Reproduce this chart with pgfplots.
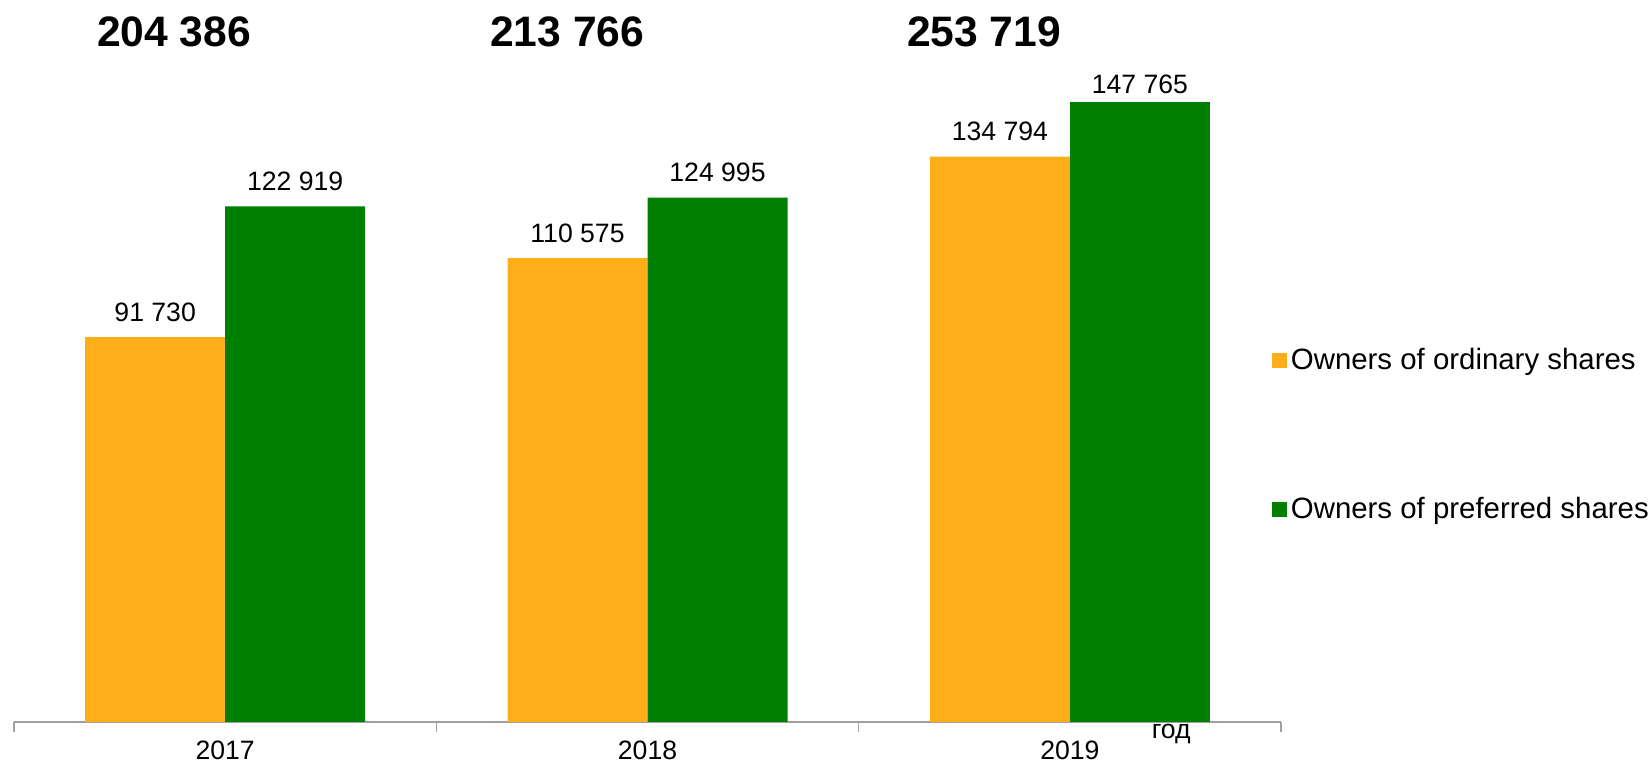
\documentclass[border=0pt]{standalone}
\usepackage{fontspec}
\setmainfont{Liberation Sans}
\usepackage{pgfplots}
\pgfplotsset{compat=1.18}
\definecolor{ordinary}{HTML}{FDAE19}
\definecolor{preferred}{HTML}{008000}
\definecolor{axisgray}{HTML}{A0A0A0}

\begin{document}
\begin{tikzpicture}
\begin{axis}[
    scale only axis,
    width=633.5pt, height=331pt,
    xmin=-0.5, xmax=2.5,
    ymin=0, ymax=157800,
    clip=false,
    ybar=0pt, bar width=70pt,
    axis x line*=bottom,
    axis y line=none,
    axis line style={axisgray, line width=0.7pt, -},
    xtick={0,1,2},
    xticklabels={2017,2018,2019},
    major x tick style={draw=none},
    xticklabel style={font=\fontsize{13.3}{16}\selectfont, anchor=base, inner sep=0pt, yshift=-14.6pt},
    extra x ticks={-0.5,0.5,1.5,2.5},
    extra x tick labels={},
    extra x tick style={tick align=outside, major tick length=5pt,
        major x tick style={draw=axisgray, line width=0.7pt}},
    /pgf/number format/fixed,
    /pgf/number format/precision=0,
    /pgf/number format/1000 sep={\ },
    /pgf/number format/assume math mode=true,
    nodes near coords,
    nodes near coords style={font=\fontsize{13.3}{16}\selectfont, anchor=base, yshift=8pt, text=black},
    legend style={at={(0.9925,0.4335)}, anchor=west, draw=none, fill=none,
        inner sep=0pt, row sep=58.5pt, font=\fontsize{14.7}{17}\selectfont,
        cells={anchor=west}},
    legend image code/.code={\fill[#1] (0pt,-3.75pt) rectangle (7.5pt,3.75pt);},
]
% ordinary shares
\addplot[fill=ordinary, draw=none, bar shift=-35pt] coordinates {(0,91730) (1,110575) (2,134794)};
\addlegendentry{Owners of ordinary shares}
% preferred shares (2019 label sits closer to its bar)
\addplot[fill=preferred, draw=none, bar shift=35pt] coordinates {(0,122919) (1,124995)};
\addlegendentry{Owners of preferred shares}
\addplot[fill=preferred, draw=none, bar shift=35pt, forget plot,
    nodes near coords style={yshift=-3.7pt}] coordinates {(2,147765)};

\node[font=\fontsize{21.3}{25}\selectfont\bfseries] at (axis cs:-0.121,164470) {204 386};
\node[font=\fontsize{21.3}{25}\selectfont\bfseries] at (axis cs:0.810,164470) {213 766};
\node[font=\fontsize{21.3}{25}\selectfont\bfseries] at (axis cs:1.797,164470) {253 719};
\node[font=\fontsize{13.3}{16}\selectfont, anchor=base, yshift=-8.5pt] at (axis cs:2.24,0) {год};
\end{axis}
\pgfresetboundingbox
\path[use as bounding box] ([shift={(-7pt,-21pt)}]current axis.south west)
    rectangle ([shift={(819pt,361pt)}]current axis.south west);
\end{tikzpicture}
\end{document}
